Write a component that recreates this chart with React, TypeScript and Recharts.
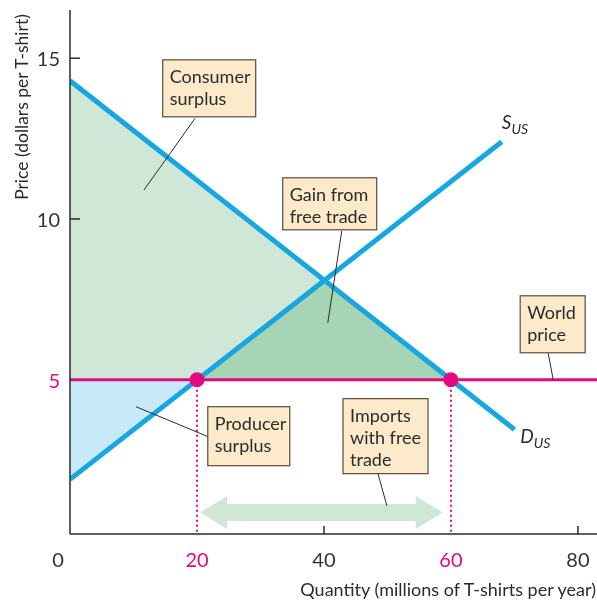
import React from 'react';
import { ComposedChart, XAxis, YAxis, Area, Line, ReferenceLine, ReferenceDot } from 'recharts';

// tick labels
const xTicks = [0, 20, 40, 60, 80];
const yTicks = [5, 10, 15];

// curves (quantity in millions, price in dollars)
const demand = [{ q: 0, p: 14.3 }, { q: 70, p: 3.45 }];
const supply = [{ q: 0, p: 1.9 }, { q: 68, p: 12.4 }];
const worldPrice = 5;
const usProduction = 20;
const usConsumption = 60;
const noTrade = { q: 40, p: 8.1 };

// shaded regions
const consumerSurplus = [{ q: 0, p: 14.3 }, { q: usConsumption, p: worldPrice }];
const gainFromTrade = [{ q: usProduction, p: worldPrice }, noTrade, { q: usConsumption, p: worldPrice }];
const producerSurplus = [{ q: 0, p: 1.9 }, { q: usProduction, p: worldPrice }];

const FONT = 'Lato, "Open Sans", sans-serif';
const BLUE = '#16a7e0';
const PINK = '#e4097e';
const INK = '#2b2b2b';

const pinkTicks = [5, 20, 60];

const YTick = (props: any) => {
  const { x, y, payload } = props;
  const v = payload.value;
  return (
    <g>
      {v !== 5 && <line x1={x} x2={x + 10} y1={y} y2={y} stroke={INK} strokeWidth={1.5} />}
      <text x={x - 10} y={y + 8} textAnchor="end" fontSize={20} fontFamily={FONT}
        fill={pinkTicks.includes(v) ? PINK : '#333'}>{v}</text>
    </g>
  );
};

const XTick = (props: any) => {
  const { x, y, payload } = props;
  const v = payload.value;
  return (
    <g>
      {(v === 40 || v === 80) && <line x1={x} x2={x} y1={y} y2={y - 8} stroke={INK} strokeWidth={1.5} />}
      <text x={v === 0 ? x - 12 : x} y={y + 33} textAnchor="middle" fontSize={20} fontFamily={FONT}
        fill={pinkTicks.includes(v) ? PINK : '#333'}>{v}</text>
    </g>
  );
};

const makeBox = (lines: string[], w: number, h: number) => (props: any) => {
  const { cx, cy } = props;
  return (
    <g>
      <rect x={cx} y={cy} width={w} height={h} fill="#fdeaca" stroke="#5a4a3c" strokeWidth={1.2} />
      {lines.map((t, i) => (
        <text key={i} x={cx + 7} y={cy + 23 + i * 22} fontSize={18} fontFamily={FONT} fill={INK}>{t}</text>
      ))}
    </g>
  );
};

const makeCurveName = (main: string) => (props: any) => {
  const { cx, cy } = props;
  return (
    <text x={cx} y={cy} fontSize={19} fontFamily={FONT} fill={INK} fontStyle="italic">
      {main}
      <tspan fontSize={14} dy={5}>US</tspan>
    </text>
  );
};

const Arrow = (props: any) => {
  const { x1, x2, y1 } = props;
  const a = Math.min(x1, x2);
  const b = Math.max(x1, x2);
  const y = y1;
  const hl = 27, hh = 16.5, sh = 8.5;
  const pts = [
    [a, y], [a + hl, y - hh], [a + hl, y - sh], [b - hl, y - sh], [b - hl, y - hh], [b, y],
    [b - hl, y + hh], [b - hl, y + sh], [a + hl, y + sh], [a + hl, y + hh],
  ].map((p) => p.join(',')).join(' ');
  return <polygon points={pts} fill="#cfe8d6" />;
};

const leader = { stroke: INK, strokeWidth: 1 };

export default function App() {
  return (
    <div style={{ position: 'fixed', left: 0, top: 0 }}>
      <ComposedChart width={597} height={606} margin={{ top: 10, right: 0, bottom: 0, left: 8 }}>
        <XAxis type="number" dataKey="q" domain={[0, 83]} ticks={xTicks} allowDataOverflow
          tickLine={false} tickSize={0} tickMargin={0} height={72}
          axisLine={{ stroke: INK, strokeWidth: 1.5 }} tick={<XTick />}
          label={{
            content: (p: any) => {
              const vb = p.viewBox;
              return (
                <text x={vb.x + vb.width - 1} y={vb.y + 62} textAnchor="end"
                  fontSize={18} fontFamily={FONT} fill={INK}>Quantity (millions of T-shirts per year)</text>
              );
            },
          }} />
        <YAxis type="number" dataKey="p" domain={[0.2, 16.5]} ticks={yTicks} allowDataOverflow
          tickLine={false} tickSize={0} tickMargin={0} width={62}
          axisLine={{ stroke: INK, strokeWidth: 1.5 }} tick={<YTick />}
          label={{
            content: (p: any) => {
              const vb = p.viewBox;
              const x = vb.x + 20;
              const y = vb.y + 97;
              return (
                <text x={x} y={y} transform={`rotate(-90, ${x}, ${y})`} textAnchor="middle"
                  fontSize={17.5} fontFamily={FONT} fill={INK}>Price (dollars per T-shirt)</text>
              );
            },
          }} />

        <Area data={consumerSurplus} dataKey="p" type="linear" baseValue={worldPrice}
          fill="#cfe7d7" fillOpacity={1} stroke="none" isAnimationActive={false} />
        <Area data={gainFromTrade} dataKey="p" type="linear" baseValue={worldPrice}
          fill="#a6d5b5" fillOpacity={1} stroke="none" isAnimationActive={false} />
        <Area data={producerSurplus} dataKey="p" type="linear" baseValue={worldPrice}
          fill="#c7e9f8" fillOpacity={1} stroke="none" isAnimationActive={false} />

        <ReferenceLine segment={[{ x: usProduction, y: worldPrice }, { x: usProduction, y: 0.2 }]}
          stroke={PINK} strokeWidth={2} strokeDasharray="2 3" />
        <ReferenceLine segment={[{ x: usConsumption, y: worldPrice }, { x: usConsumption, y: 0.2 }]}
          stroke={PINK} strokeWidth={2} strokeDasharray="2 3" />

        <ReferenceLine segment={[{ x: 20.5, y: 0.87 }, { x: 58.7, y: 0.87 }]} shape={<Arrow />} />

        <Line data={demand} dataKey="p" type="linear" dot={false} stroke={BLUE} strokeWidth={5}
          isAnimationActive={false} />
        <Line data={supply} dataKey="p" type="linear" dot={false} stroke={BLUE} strokeWidth={5}
          isAnimationActive={false} />

        <ReferenceLine y={worldPrice} stroke={PINK} strokeWidth={3} />
        <ReferenceDot x={usProduction} y={worldPrice} r={7.5} fill={PINK} stroke="none" />
        <ReferenceDot x={usConsumption} y={worldPrice} r={7.5} fill={PINK} stroke="none" />

        {/* leader lines */}
        <ReferenceLine segment={[{ x: 19.7, y: 13.13 }, { x: 11.65, y: 10.9 }]} {...leader} />
        <ReferenceLine segment={[{ x: 42.8, y: 9.63 }, { x: 40.6, y: 6.77 }]} {...leader} />
        <ReferenceLine segment={[{ x: 75.3, y: 5.84 }, { x: 76.1, y: 5 }]} {...leader} />
        <ReferenceLine segment={[{ x: 21.7, y: 3.23 }, { x: 10.4, y: 4.16 }]} {...leader} />
        <ReferenceLine segment={[{ x: 48.5, y: 2.08 }, { x: 49.9, y: 1.08 }]} {...leader} />

        {/* label boxes */}
        <ReferenceDot x={14.6} y={14.95} shape={makeBox(['Consumer', 'surplus'], 93, 57)} />
        <ReferenceDot x={33.5} y={11.28} shape={makeBox(['Gain from', 'free trade'], 94, 52)} />
        <ReferenceDot x={70.9} y={7.61} shape={makeBox(['World', 'price'], 65, 57)} />
        <ReferenceDot x={21.7} y={4.16} shape={makeBox(['Producer', 'surplus'], 82, 59)} />
        <ReferenceDot x={43} y={4.41} shape={makeBox(['Imports', 'with free', 'trade'], 85, 75)} />

        <ReferenceDot x={68} y={12.8} shape={makeCurveName('S')} />
        <ReferenceDot x={70.9} y={3.04} shape={makeCurveName('D')} />
      </ComposedChart>
    </div>
  );
}
